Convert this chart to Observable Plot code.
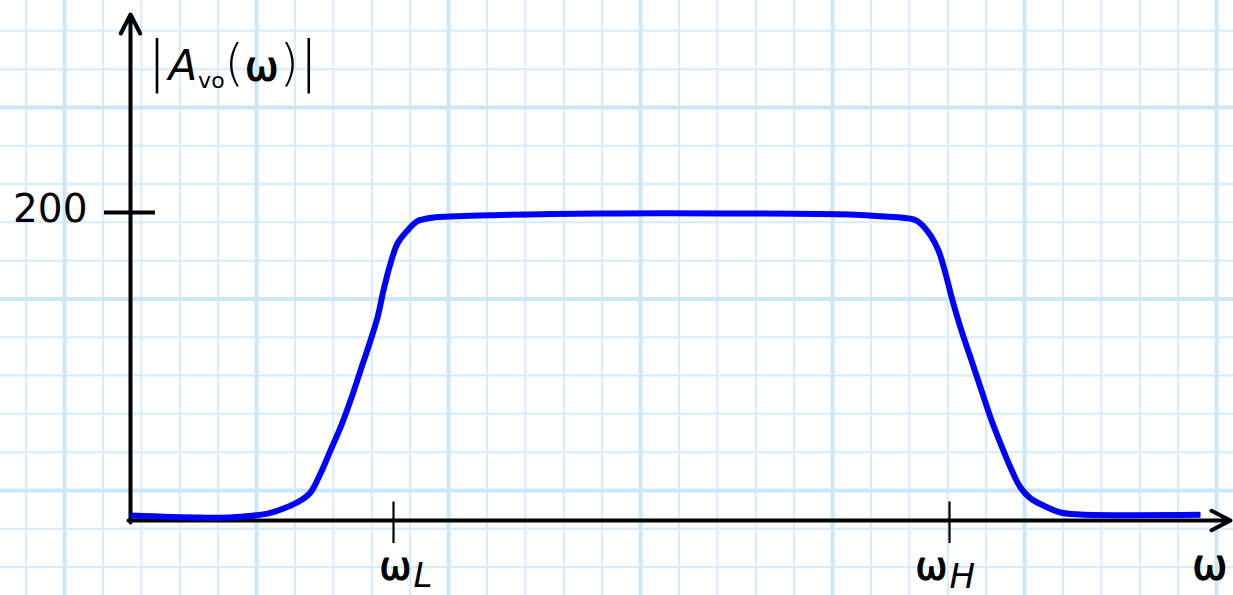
<!DOCTYPE html>
<html>
<head>
<meta charset="utf-8">
<script src="https://cdn.jsdelivr.net/npm/d3@7"></script>
<script src="https://cdn.jsdelivr.net/npm/@observablehq/plot@0.6"></script>
<style>
  html, body { margin: 0; padding: 0; background: #fff; }
  #chart svg { display: block; }
</style>
</head>
<body>
<div id="chart"></div>
<script>
// Magnitude response |A_vo(ω)| of a band-pass amplifier, ω in arbitrary units
const omega = [0, 70, 103, 137, 153, 170, 180, 190, 200, 210, 220, 230, 240, 247, 253, 260, 267, 277, 287, 303, 320,
               470, 620, 720, 750, 783, 790, 800, 808, 815, 822, 830, 840, 850, 860, 870, 880, 890, 900, 913, 930, 950, 1070];
const gain  = [3.2, 1.9, 2.1, 4.5, 7.8, 13, 18.2, 30.5, 45.5, 60.4, 77.9, 97.4, 116.9, 131.8, 149.4, 166.9, 179.9, 188.3, 194.4, 196.8, 197.4,
               199.4, 199.4, 198.7, 197.6, 195.5, 192.9, 185.1, 175.3, 160.4, 142.9, 125.3, 105.8, 86.4, 66.9, 50, 34.4, 21.4, 14.3, 9.7, 5.2, 3.9, 3.7];

const midbandGain = 200;          // labelled tick on the gain axis
const cornerOmega = [263, 819];   // ω_L and ω_H
const cornerNames = ["L", "H"];
const axisEnd = {x: 1100, y: 328.57};

// Graph-paper ruling, in data units (minor squares, heavier line every fifth)
const paper = {x0: -66, dx: 38.4, y0: 19.5, dy: 24.87, xMin: -130, xMax: 1103, yMin: -48.7, yMax: 337.7};

const curve = omega.map((w, i) => ({w, g: gain[i]}));

const paperX = d3.range(Math.ceil((paper.xMin - paper.x0) / paper.dx), Math.floor((paper.xMax - paper.x0) / paper.dx) + 1)
  .map(k => ({v: paper.x0 + k * paper.dx, major: k % 5 === 0}));
const paperY = d3.range(Math.ceil((paper.yMin - paper.y0) / paper.dy), Math.floor((paper.yMax - paper.y0) / paper.dy) + 1)
  .map(k => ({v: paper.y0 + k * paper.dy, major: k % 5 === 0}));

const font = "'Comic Sans MS', 'DejaVu Sans', sans-serif";

// heavy hand-lettered ω: regular glyph with a thin outline
const omegaStyle = {fontSize: 38, fill: "#000", stroke: "#000", strokeWidth: 1.2};

// subscripted ω label under one corner tick
const cornerLabel = (i, dxOmega, dxSub, dySub) => [
  Plot.text([cornerOmega[i]], {x: d => d, y: 0, text: () => "ω", dx: dxOmega, dy: 46, ...omegaStyle}),
  Plot.text([cornerOmega[i]], {x: d => d, y: 0, text: () => cornerNames[i], textAnchor: "start", dx: dxSub, dy: dySub, fontSize: 34, fontStyle: "italic", fill: "#000"})
];

const chart = Plot.plot({
  width: 1233,
  height: 595,
  marginLeft: 130,
  marginRight: 3,
  marginTop: 14,
  marginBottom: 75,
  style: {fontFamily: font, background: "#fff", overflow: "visible"},
  x: {domain: [0, axisEnd.x], axis: null},
  y: {domain: [0, axisEnd.y], axis: null},
  marks: [
    // graph paper
    Plot.ruleX(paperX.filter(d => !d.major), {x: "v", y1: paper.yMin, y2: paper.yMax, stroke: "#d4ecfd", strokeWidth: 2}),
    Plot.ruleY(paperY.filter(d => !d.major), {y: "v", x1: paper.xMin, x2: paper.xMax, stroke: "#d4ecfd", strokeWidth: 2}),
    Plot.ruleX(paperX.filter(d => d.major), {x: "v", y1: paper.yMin, y2: paper.yMax, stroke: "#cbe8fb", strokeWidth: 4}),
    Plot.ruleY(paperY.filter(d => d.major), {y: "v", x1: paper.xMin, x2: paper.xMax, stroke: "#cbe8fb", strokeWidth: 4}),

    // axes with open arrowheads
    Plot.arrow([null], {x1: -2, y1: 0, x2: axisEnd.x, y2: 0, stroke: "#000", strokeWidth: 4, headLength: 8, headAngle: 54}),
    Plot.arrow([null], {x1: 0, y1: -1.3, x2: 0, y2: axisEnd.y, stroke: "#000", strokeWidth: 4, headLength: 8, headAngle: 54}),

    // ticks
    Plot.ruleY([midbandGain], {x1: -26, x2: 25, stroke: "#000", strokeWidth: 4}),
    Plot.ruleX(cornerOmega, {y1: -15, y2: 12, stroke: "#000", strokeWidth: 2.2}),

    // tick labels
    Plot.text([midbandGain], {y: d => d, frameAnchor: "left", text: d => String(d), textAnchor: "end", dx: -43, dy: -3, fontSize: 39, fill: "#000"}),
    ...cornerLabel(0, 2, 20, 56),
    ...cornerLabel(1, -18, 0, 57),
    Plot.text([null], {x: axisEnd.x, y: 0, text: () => "ω", textAnchor: "end", dx: -3, dy: 45, ...omegaStyle, fontSize: 42}),

    // magnitude curve
    Plot.line(curve, {x: "w", y: "g", curve: "catmull-rom", stroke: "#0000ff", strokeWidth: 6, strokeLinecap: "butt", strokeLinejoin: "round"}),

    // axis title, rebuilt with a subscript below
    Plot.text(["|Avo(ω)|"], {frameAnchor: "top-left", textAnchor: "start", dx: 17, dy: 43, fontSize: 32, fill: "#000", className: "ylabel"})
  ]
});

// |A_vo(ω)| : tall bars and parentheses, subscript "vo"
const label = d3.select(chart).select(".ylabel text");
label.text(null);
label.append("tspan").attr("font-size", 56).attr("font-weight", 300).text("|");
label.append("tspan").attr("dx", 2).attr("font-size", 42).attr("font-style", "italic").text("A");
label.append("tspan").attr("font-size", 22).attr("dy", 8).attr("dx", 1).text("vo");
label.append("tspan").attr("font-size", 50).attr("dy", -8).attr("font-weight", 300).text("(");
label.append("tspan").attr("dx", 1).attr("font-size", 40).attr("stroke", "#000").attr("stroke-width", 1.2).text("ω");
label.append("tspan").attr("font-size", 50).attr("dx", 1).attr("font-weight", 300).text(")");
label.append("tspan").attr("font-size", 56).attr("dx", 0).attr("font-weight", 300).text("|");

document.getElementById("chart").append(chart);
</script>
</body>
</html>
